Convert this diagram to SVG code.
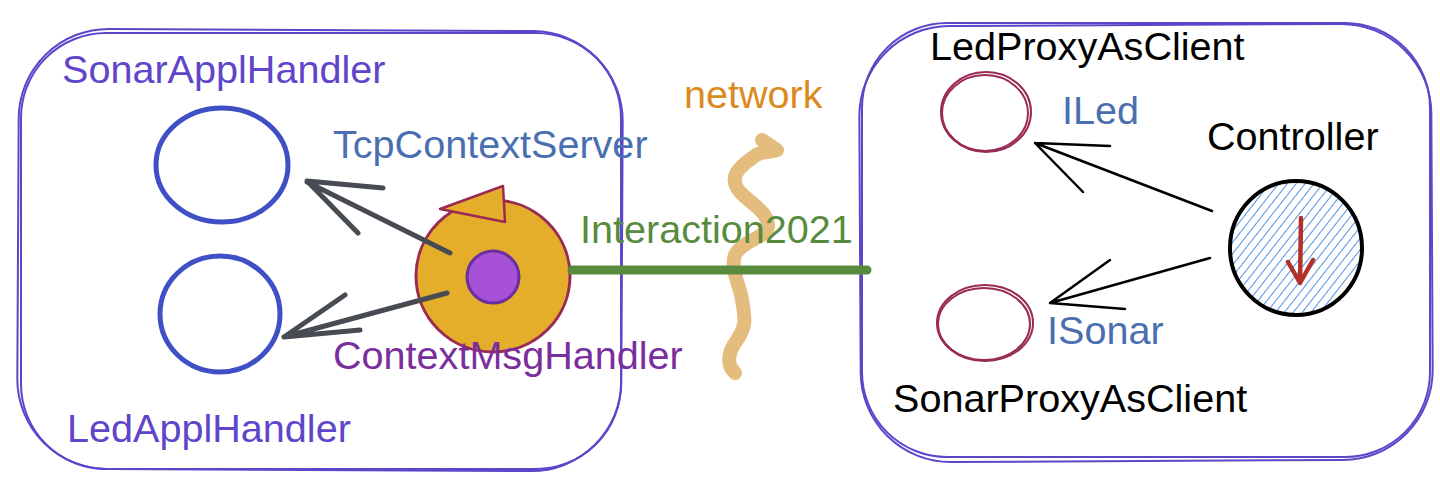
<svg xmlns="http://www.w3.org/2000/svg" width="1440" height="489" viewBox="0 0 1440 489">
<style>
text{font-family:"Liberation Sans",Arial,sans-serif;font-size:39.6px}
.box{fill:none;stroke:#5f45c9;stroke-width:2}
.blue{fill:#4a6fb0}
.gray{fill:none;stroke:#474c52;stroke-width:5;stroke-linecap:round;stroke-linejoin:round}
.blk{fill:none;stroke:#000;stroke-width:2.5;stroke-linecap:round;stroke-linejoin:round}
.mar{fill:none;stroke:#9a2a55;stroke-width:2}
</style>
<defs>
<pattern id="hatch" patternUnits="userSpaceOnUse" width="7" height="7" patternTransform="rotate(38)">
<line x1="0" y1="0" x2="0" y2="7" stroke="#3f86e0" stroke-width="1.8"/>
</pattern>
</defs>
<rect width="1440" height="489" fill="#fff"/>
<g id="left-box">
<rect class="box" x="21" y="33" width="600" height="436" rx="85"/>
<rect class="box" x="18" y="30" width="604" height="440" rx="90" transform="rotate(0.3 320 250)"/>
</g>
<g id="right-box">
<rect class="box" x="862" y="23" width="568" height="434" rx="85"/>
<rect class="box" x="860" y="25" width="572" height="436" rx="90" transform="rotate(-0.3 1146 240)"/>
</g>
<g id="network">
<path d="M762 140 L777 150 C770 153 760 150 752 158 C738 168 728 178 740 192 C750 203 768 212 768 225 C768 238 742 240 735 255 C730 270 740 285 742 300 C745 318 747 325 737 340 C728 352 726 365 735 373" fill="none" stroke="#e3bc7e" stroke-width="14" stroke-linecap="round" stroke-linejoin="round"/>
<text x="684" y="108" fill="#dc8a1e">network</text>
</g>
<g id="SonarApplHandler">
<ellipse cx="222" cy="165" rx="66" ry="57" fill="none" stroke="#3f4fc5" stroke-width="5"/>
<text x="62" y="83" fill="#5f45c9">SonarApplHandler</text>
</g>
<g id="LedApplHandler">
<ellipse cx="220" cy="314" rx="60" ry="58" fill="none" stroke="#3f4fc5" stroke-width="5"/>
<text x="67" y="442" fill="#5f45c9">LedApplHandler</text>
</g>
<g id="ContextMsgHandler">
<ellipse cx="493" cy="276" rx="77" ry="76" fill="#e4ae2a" stroke="#9a2a55" stroke-width="3"/>
<path d="M440 209 L503 186 L505 222 Z" fill="#e4ae2a" stroke="#9a2a55" stroke-width="2.5" stroke-linejoin="round"/>
<circle cx="493" cy="277" r="26" fill="#a651d6" stroke="#6c2f9f" stroke-width="3"/>
<text x="333" y="158" class="blue">TcpContextServer</text>
<text x="333" y="369" fill="#7a2e9e">ContextMsgHandler</text>
</g>
<g id="LedProxyAsClient">
<ellipse cx="986" cy="112" rx="45" ry="40" class="mar"/>
<ellipse cx="985" cy="113" rx="43" ry="38" class="mar"/>
<text x="930" y="60" fill="#000">LedProxyAsClient</text>
<text x="1062" y="124" class="blue">ILed</text>
</g>
<g id="SonarProxyAsClient">
<ellipse cx="985" cy="323" rx="48" ry="38" class="mar"/>
<ellipse cx="984" cy="324" rx="46" ry="36" class="mar"/>
<text x="893" y="412" fill="#000">SonarProxyAsClient</text>
<text x="1047" y="344" class="blue">ISonar</text>
</g>
<g id="Controller">
<ellipse cx="1296" cy="248" rx="66" ry="67" fill="url(#hatch)" stroke="#000" stroke-width="4"/>
<path d="M1301 218 L1300 283 M1288 262 L1300 283 L1313 260" fill="none" stroke="#b3312b" stroke-width="4.5" stroke-linecap="round" stroke-linejoin="round"/>
<text x="1207" y="150" fill="#000">Controller</text>
</g>
<text x="580" y="243" fill="#588b3e">Interaction2021</text>
<g id="connectors">
<path d="M572 270 L867 270" fill="none" stroke="#588b3e" stroke-width="9" stroke-linecap="round"/>
<path class="gray" d="M450 253 L307 182 M383 188 L307 181 L358 233"/>
<path class="gray" d="M447 293 L284 337 M345 295 L284 337 L360 330"/>
<path class="blk" d="M1212 211 L1035 143 M1110 146 L1035 143 L1083 192"/>
<path class="blk" d="M1210 258 L1050 303 M1110 260 L1050 303 L1125 309"/>
</g>
</svg>
